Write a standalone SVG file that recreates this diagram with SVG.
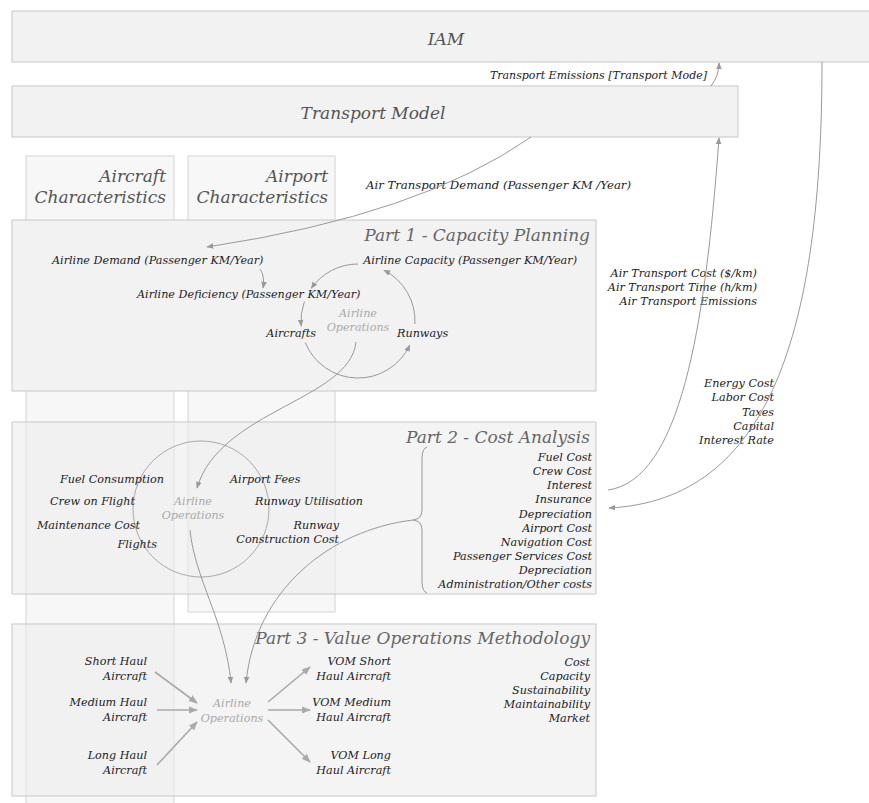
<svg xmlns="http://www.w3.org/2000/svg" width="869" height="803" viewBox="0 0 869 803">
<style>
text{font-family:"DejaVu Serif","Liberation Serif",serif;font-style:italic}
.lbl{font-size:11.2px;fill:#222}
.big{font-size:17px;fill:#555}
.ttl{font-size:17px;fill:#666;text-anchor:end}
.ops{font-size:11.2px;fill:#aaa;text-anchor:middle}
.r{text-anchor:end}
.m{text-anchor:middle}
.box{fill:#f2f2f2;stroke:#c8c8c8;stroke-width:1}
.boxt{fill:#ececec;fill-opacity:0.6;stroke:#c8c8c8;stroke-width:1}
.col{fill:#f7f7f7;stroke:#d4d4d4;stroke-width:1}
.c{fill:none;stroke:#999;stroke-width:1}
.c3{fill:none;stroke:#aaa;stroke-width:1.6}
</style>
<defs>
<marker id="ah" viewBox="0 0 10 10" refX="9" refY="5" markerWidth="7" markerHeight="7" markerUnits="userSpaceOnUse" orient="auto"><path d="M0,1 L10,5 L0,9 z" fill="#999"/></marker>
<marker id="ah3" viewBox="0 0 10 10" refX="9" refY="5" markerWidth="9" markerHeight="9" markerUnits="userSpaceOnUse" orient="auto"><path d="M0,1 L10,5 L0,9 z" fill="#aaa"/></marker>
</defs>
<rect width="869" height="803" fill="#fff"/>
<g id="iam"><rect class="box" x="12" y="11" width="870" height="51"/><text class="big m" x="446" y="45">IAM</text></g>
<g id="transport-model"><rect class="box" x="12" y="86" width="726" height="51"/><text class="big m" x="373" y="119">Transport Model</text></g>
<g id="aircraft-characteristics"><rect class="col" x="26" y="156" width="148" height="660"/><text class="big r" x="166" y="182">Aircraft</text><text class="big r" x="166" y="203">Characteristics</text></g>
<g id="airport-characteristics"><rect class="col" x="188" y="156" width="147" height="456"/><text class="big r" x="328" y="182">Airport</text><text class="big r" x="328" y="203">Characteristics</text></g>
<g id="part1">
<rect class="box" x="12" y="220" width="584" height="171"/>
<text class="ttl" x="590" y="241">Part 1 - Capacity Planning</text>
<text class="lbl" x="52" y="264">Airline Demand (Passenger KM/Year)</text>
<text class="lbl r" x="577" y="264">Airline Capacity (Passenger KM/Year)</text>
<text class="lbl" x="137" y="298">Airline Deficiency (Passenger KM/Year)</text>
<text class="ops" x="358" y="317">Airline</text><text class="ops" x="358" y="331">Operations</text>
<text class="lbl r" x="316" y="337">Aircrafts</text>
<text class="lbl" x="397" y="337">Runways</text>
</g>
<g id="part2">
<rect class="boxt" x="12" y="422" width="584" height="172"/>
<text class="ttl" x="590" y="443">Part 2 - Cost Analysis</text>
<circle cx="201" cy="509" r="68" fill="none" stroke="#aaa" stroke-width="1"/>
<text class="ops" x="193" y="505">Airline</text><text class="ops" x="193" y="519">Operations</text>
<text class="lbl r" x="164" y="483">Fuel Consumption</text>
<text class="lbl r" x="135" y="505">Crew on Flight</text>
<text class="lbl r" x="140" y="529">Maintenance Cost</text>
<text class="lbl r" x="157" y="548">Flights</text>
<text class="lbl" x="230" y="483">Airport Fees</text>
<text class="lbl" x="255" y="505">Runway Utilisation</text>
<text class="lbl r" x="339" y="529">Runway</text>
<text class="lbl r" x="339" y="543">Construction Cost</text>
<g class="lbl r">
<text x="592" y="461">Fuel Cost</text><text x="592" y="475">Crew Cost</text><text x="592" y="489">Interest</text><text x="592" y="503">Insurance</text><text x="592" y="518">Depreciation</text><text x="592" y="532">Airport Cost</text><text x="592" y="546">Navigation Cost</text><text x="592" y="560">Passenger Services Cost</text><text x="592" y="574">Depreciation</text><text x="592" y="588">Administration/Other costs</text>
</g>
<path class="c" d="M427,447 Q422,449 422,458 L422,510 Q422,519 413,520 Q422,521 422,530 L422,582 Q422,591 427,593"/>
</g>
<g id="part3">
<rect class="boxt" x="12" y="624" width="584" height="172"/>
<text class="ttl" x="590" y="644">Part 3 - Value Operations Methodology</text>
<text class="lbl r" x="147" y="665">Short Haul</text><text class="lbl r" x="147" y="680">Aircraft</text>
<text class="lbl r" x="147" y="706">Medium Haul</text><text class="lbl r" x="147" y="721">Aircraft</text>
<text class="lbl r" x="147" y="759">Long Haul</text><text class="lbl r" x="147" y="774">Aircraft</text>
<text class="ops" x="232" y="707">Airline</text><text class="ops" x="232" y="722">Operations</text>
<text class="lbl r" x="391" y="665">VOM Short</text><text class="lbl r" x="391" y="680">Haul Aircraft</text>
<text class="lbl r" x="391" y="706">VOM Medium</text><text class="lbl r" x="391" y="721">Haul Aircraft</text>
<text class="lbl r" x="391" y="759">VOM Long</text><text class="lbl r" x="391" y="774">Haul Aircraft</text>
<g class="lbl r">
<text x="590" y="666">Cost</text><text x="590" y="680">Capacity</text><text x="590" y="694">Sustainability</text><text x="590" y="708">Maintainability</text><text x="590" y="722">Market</text>
</g>
</g>
<g id="labels">
<text class="lbl r" x="707" y="79" style="font-size:11px">Transport Emissions [Transport Mode]</text>
<text class="lbl" x="366" y="189" style="font-size:11.7px">Air Transport Demand (Passenger KM /Year)</text>
<g class="lbl r"><text x="757" y="277">Air Transport Cost ($/km)</text><text x="757" y="291">Air Transport Time (h/km)</text><text x="757" y="305">Air Transport Emissions</text></g>
<g class="lbl r"><text x="774" y="387">Energy Cost</text><text x="774" y="401">Labor Cost</text><text x="774" y="416">Taxes</text><text x="774" y="430">Capital</text><text x="774" y="444">Interest Rate</text></g>
</g>
<g id="connectors">
<path class="c" marker-end="url(#ah)" d="M711,86 Q719,76 719,63"/>
<path class="c" marker-end="url(#ah)" d="M531,137 Q420,215 207,247"/>
<path class="c" marker-end="url(#ah)" d="M608,490 C680,480 705,330 719,138"/>
<path class="c" marker-end="url(#ah)" d="M822,62 C822,330 770,500 609,508"/>
<path class="c" marker-end="url(#ah)" d="M260,269 Q265,276 263,288"/>
<path class="c" marker-end="url(#ah)" d="M358,264 A57,57 0 0 0 311.3,288.3"/>
<path class="c" marker-end="url(#ah)" d="M304.4,301.5 A57,57 0 0 0 301.2,326"/>
<path class="c" marker-end="url(#ah)" d="M305.2,342.4 A57,57 0 0 0 409.7,345.1"/>
<path class="c" marker-end="url(#ah)" d="M414.9,324 A57,57 0 0 0 383.9,270.2"/>
<path class="c" marker-end="url(#ah)" d="M356,342 C350,400 220,410 197,488"/>
<path class="c" marker-end="url(#ah)" d="M190,530 C195,580 225,620 231,683"/>
<path class="c" marker-end="url(#ah)" d="M413,520 C330,530 255,590 246,683"/>
<path class="c3" marker-end="url(#ah3)" d="M155,672 L197,703"/>
<path class="c3" marker-end="url(#ah3)" d="M157,710 L197,710"/>
<path class="c3" marker-end="url(#ah3)" d="M157,765 L197,722"/>
<path class="c3" marker-end="url(#ah3)" d="M268,702 L310,667"/>
<path class="c3" marker-end="url(#ah3)" d="M268,710 L310,710"/>
<path class="c3" marker-end="url(#ah3)" d="M268,720 L310,762"/>
</g>
</svg>
